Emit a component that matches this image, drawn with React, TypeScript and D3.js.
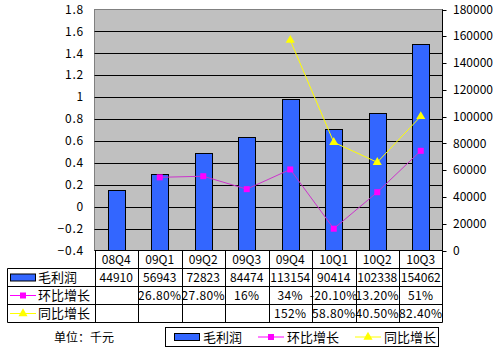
import { useEffect, useRef } from 'react';
import * as d3 from 'd3';

const quarters = ['08Q4', '09Q1', '09Q2', '09Q3', '09Q4', '10Q1', '10Q2', '10Q3'];
const grossProfit = [44910, 56943, 72823, 84474, 113154, 90414, 102338, 154062];
const qoqGrowth: (number | null)[] = [null, 0.268, 0.278, 0.16, 0.34, -0.201, 0.132, 0.51];
const yoyGrowth: (number | null)[] = [null, null, null, null, 1.52, 0.588, 0.405, 0.824];
const qoqLabels = ['', '26.80%', '27.80%', '16%', '34%', '-20.10%', '13.20%', '51%'];
const yoyLabels = ['', '', '', '', '152%', '58.80%', '40.50%', '82.40%'];
const leftTicks = [-0.4, -0.2, 0, 0.2, 0.4, 0.6, 0.8, 1, 1.2, 1.4, 1.6, 1.8];
const rightTicks = [0, 20000, 40000, 60000, 80000, 100000, 120000, 140000, 160000, 180000];
const seriesNames = ['毛利润', '环比增长', '同比增长'];
const unitNote = '单位：千元';

const W = 497;
const H = 352;
const FONT = '"Noto Sans CJK SC", "DejaVu Sans", sans-serif';
const BLUE = '#3366FF';
const MAGENTA = '#FF00FF';
const YELLOW = '#FFFF00';

export default function App() {
  const svgRef = useRef<SVGSVGElement>(null);

  useEffect(() => {
    if (!svgRef.current) return;
    const svg = d3.select(svgRef.current);
    svg.selectAll('*').remove();

    const plot = { left: 94.5, right: 442.5, top: 9.5, bottom: 250.5 };
    const rows = [250.5, 268.5, 286.5, 304.5, 322.5];
    const tableLeft = 7.5;

    const x = d3.scaleBand<string>().domain(quarters).range([plot.left, plot.right]);
    const yL = d3.scaleLinear().domain([-0.4, 1.8]).range([plot.bottom, plot.top]);
    const yR = d3.scaleLinear().domain([0, 180000]).range([plot.bottom, plot.top]);

    svg.append('rect').attr('width', W).attr('height', H).attr('fill', '#fff');

    // plot background
    svg.append('rect')
      .attr('x', plot.left).attr('y', plot.top)
      .attr('width', plot.right - plot.left).attr('height', plot.bottom - plot.top)
      .attr('fill', '#C0C0C0').attr('stroke', '#808080');

    // gridlines
    svg.selectAll('.grid')
      .data(leftTicks.slice(1, -1))
      .enter().append('line')
      .attr('x1', plot.left).attr('x2', plot.right)
      .attr('y1', d => Math.round(yL(d)) + 0.5).attr('y2', d => Math.round(yL(d)) + 0.5)
      .attr('stroke', '#000');

    // left labels
    svg.selectAll('.lt')
      .data(leftTicks)
      .enter().append('text')
      .attr('x', 84).attr('y', d => yL(d))
      .attr('dy', '0.35em')
      .attr('text-anchor', 'end')
      .attr('letter-spacing', 0.8)
      .attr('font-family', FONT).attr('font-size', 12)
      .text(d => d3.format('~g')(d));

    // right axis
    svg.append('line')
      .attr('x1', plot.right).attr('x2', plot.right)
      .attr('y1', plot.top).attr('y2', plot.bottom).attr('stroke', '#000');
    svg.selectAll('.rtick')
      .data(rightTicks)
      .enter().append('line')
      .attr('x1', plot.right).attr('x2', plot.right + 4)
      .attr('y1', d => Math.round(yR(d)) + 0.5).attr('y2', d => Math.round(yR(d)) + 0.5)
      .attr('stroke', '#000');
    svg.selectAll('.rt')
      .data(rightTicks)
      .enter().append('text')
      .attr('x', 453).attr('y', d => yR(d))
      .attr('dy', '0.35em')
      .attr('font-family', FONT).attr('font-size', 12)
      .text(d => String(d));

    // bars
    const bw = x.bandwidth() * 0.4;
    svg.selectAll('.bar')
      .data(grossProfit)
      .enter().append('rect')
      .attr('x', (_, i) => Math.round((x(quarters[i]) as number) + x.bandwidth() / 2 - bw / 2) + 0.5)
      .attr('y', d => Math.round(yR(d)) + 0.5)
      .attr('width', Math.round(bw))
      .attr('height', d => plot.bottom - Math.round(yR(d)) - 0.5)
      .attr('fill', BLUE).attr('stroke', '#000');

    const cx = (i: number) => (x(quarters[i]) as number) + x.bandwidth() / 2;

    // qoq line
    const qoqPts = qoqGrowth.map((v, i) => ({ v, i })).filter(d => d.v !== null) as { v: number; i: number }[];
    const line = d3.line<{ v: number; i: number }>().x(d => cx(d.i)).y(d => yL(d.v));
    svg.append('path').datum(qoqPts)
      .attr('d', line).attr('fill', 'none').attr('stroke', '#CC33CC').attr('stroke-width', 1);
    svg.selectAll('.qm')
      .data(qoqPts)
      .enter().append('rect')
      .attr('x', d => cx(d.i) - 3).attr('y', d => yL(d.v) - 3)
      .attr('width', 6).attr('height', 6).attr('fill', MAGENTA);

    // yoy line
    const yoyPts = yoyGrowth.map((v, i) => ({ v, i })).filter(d => d.v !== null) as { v: number; i: number }[];
    svg.append('path').datum(yoyPts)
      .attr('d', line).attr('fill', 'none').attr('stroke', YELLOW).attr('stroke-width', 1);
    const tri = d3.symbol().type(d3.symbolTriangle).size(36);
    svg.selectAll('.ym')
      .data(yoyPts)
      .enter().append('path')
      .attr('transform', d => `translate(${cx(d.i)},${yL(d.v)})`)
      .attr('d', tri).attr('fill', YELLOW);

    // data table
    const tbl = svg.append('g').attr('stroke', '#000').attr('fill', 'none');
    tbl.append('line').attr('x1', plot.left).attr('x2', plot.right).attr('y1', rows[0]).attr('y2', rows[0]);
    rows.slice(1).forEach(r => {
      tbl.append('line').attr('x1', tableLeft).attr('x2', plot.right).attr('y1', r).attr('y2', r);
    });
    tbl.append('line').attr('x1', tableLeft).attr('x2', tableLeft).attr('y1', rows[1]).attr('y2', rows[4]);
    quarters.forEach(q => {
      const xl = Math.round(x(q) as number) + 0.5;
      tbl.append('line').attr('x1', xl).attr('x2', xl).attr('y1', rows[0]).attr('y2', rows[4]);
    });
    tbl.append('line').attr('x1', plot.right).attr('x2', plot.right).attr('y1', rows[0]).attr('y2', rows[4]);

    const rowTexts = [quarters, grossProfit.map(String), qoqLabels, yoyLabels];
    rowTexts.forEach((arr, r) => {
      svg.selectAll(`.row${r}`)
        .data(arr)
        .enter().append('text')
        .attr('x', (_, i) => cx(i))
        .attr('y', (rows[r] + rows[r + 1]) / 2)
        .attr('dy', '0.35em')
        .attr('text-anchor', 'middle')
        .attr('letter-spacing', r >= 2 ? 0.4 : 0)
        .attr('font-family', FONT).attr('font-size', 12)
        .text(d => d);
    });

    // legend keys
    const drawKey = (g: d3.Selection<SVGGElement, unknown, null, undefined>, k: number, x0: number, yc: number) => {
      if (k === 0) {
        g.append('rect').attr('x', x0 + 0.5).attr('y', yc - 3.5).attr('width', 25).attr('height', 7)
          .attr('fill', BLUE).attr('stroke', '#000');
      } else if (k === 1) {
        g.append('line').attr('x1', x0).attr('x2', x0 + 26).attr('y1', yc).attr('y2', yc).attr('stroke', MAGENTA);
        g.append('rect').attr('x', x0 + 10).attr('y', yc - 3).attr('width', 6).attr('height', 6).attr('fill', MAGENTA);
      } else {
        g.append('line').attr('x1', x0).attr('x2', x0 + 26).attr('y1', yc).attr('y2', yc).attr('stroke', YELLOW);
        g.append('path').attr('transform', `translate(${x0 + 13},${yc})`).attr('d', tri).attr('fill', YELLOW);
      }
    };

    const keys = svg.append('g');
    seriesNames.forEach((name, k) => {
      const yc = (rows[k + 1] + rows[k + 2]) / 2;
      drawKey(keys, k, 10, yc);
      keys.append('text').attr('x', 38).attr('y', yc).attr('dy', '0.35em')
        .attr('font-family', FONT).attr('font-size', 13).text(name);
    });

    // unit note
    svg.append('text').attr('x', 54).attr('y', 338).attr('dy', '0.35em')
      .attr('font-family', FONT).attr('font-size', 12).text(unitNote);

    // legend box
    const lg = svg.append('g');
    lg.append('rect').attr('x', 165.5).attr('y', 327.5).attr('width', 273).attr('height', 19)
      .attr('fill', '#fff').attr('stroke', '#000');
    const legX = [174, 258, 355];
    seriesNames.forEach((name, k) => {
      drawKey(lg, k, legX[k], 337);
      lg.append('text').attr('x', legX[k] + 29).attr('y', 337).attr('dy', '0.35em')
        .attr('font-family', FONT).attr('font-size', 13).text(name);
    });
  }, []);

  return (
    <svg
      ref={svgRef}
      width={W}
      height={H}
      style={{ position: 'absolute', left: 0, top: 0 }}
    />
  );
}
